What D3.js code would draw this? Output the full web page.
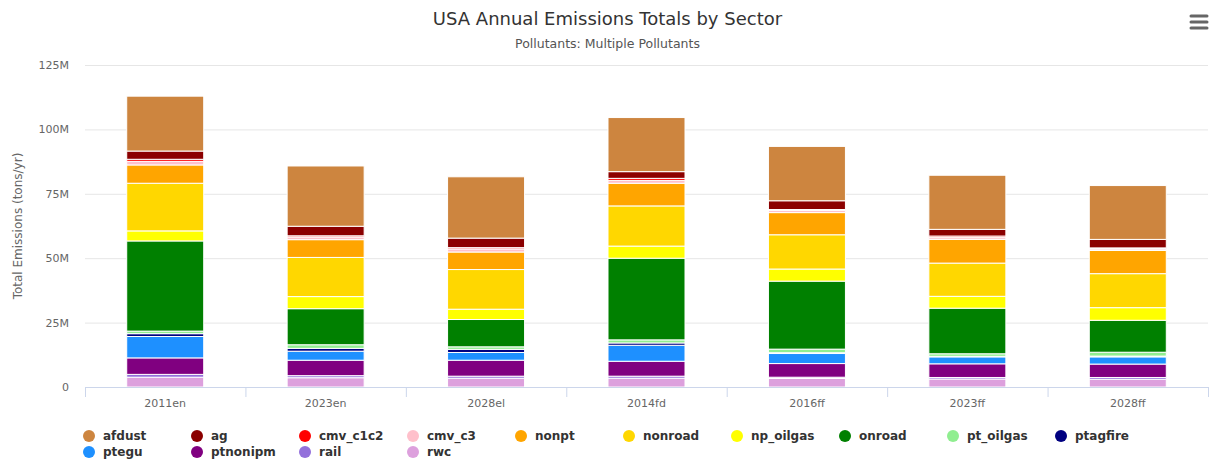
<!DOCTYPE html>
<html>
<head>
<meta charset="utf-8">
<script src="https://cdn.jsdelivr.net/npm/d3@7"></script>
<style>
  body { margin: 0; background: #fff; }
  text { font-family: "DejaVu Sans", Verdana, sans-serif; }
</style>
</head>
<body>
<div id="chart-area"></div>
<script>
// scenarios on the x axis
var scenarios = ["2011en", "2023en", "2028el", "2014fd", "2016ff", "2023ff", "2028ff"];

// sector totals, millions of tons/yr
var afdust    = [21.3, 23.4, 23.8, 21.0, 21.1, 21.0, 20.9];
var ag        = [3.2, 3.7, 3.7, 2.6, 3.4, 2.6, 3.3];
var cmv_c1c2  = [0.8, 0.5, 0.5, 0.8, 0.4, 0.6, 0.4];
var cmv_c3    = [1.4, 1.0, 1.2, 1.1, 0.8, 0.7, 0.6];
var nonpt     = [7.1, 6.9, 6.8, 8.8, 8.6, 9.2, 9.0];
var nonroad   = [18.5, 15.2, 15.4, 15.6, 13.3, 12.9, 13.2];
var np_oilgas = [3.9, 4.7, 4.0, 4.7, 4.7, 4.6, 4.9];
var onroad    = [35.0, 14.0, 10.6, 31.7, 26.4, 17.7, 12.4];
var pt_oilgas = [1.0, 1.4, 1.0, 1.2, 1.4, 1.0, 1.5];
var ptagfire  = [1.1, 1.1, 1.2, 0.9, 0.3, 0.2, 0.3];
var ptegu     = [8.3, 3.5, 3.0, 6.2, 3.9, 2.7, 2.8];
var ptnonipm  = [6.4, 6.0, 6.2, 5.8, 5.3, 5.3, 5.2];
var rail      = [1.1, 0.8, 0.8, 0.8, 0.5, 0.6, 0.7];
var rwc       = [3.8, 3.6, 3.4, 3.4, 3.3, 3.1, 3.0];

var sectors = ["afdust", "ag", "cmv_c1c2", "cmv_c3", "nonpt", "nonroad", "np_oilgas",
               "onroad", "pt_oilgas", "ptagfire", "ptegu", "ptnonipm", "rail", "rwc"];
var sectorValues = [afdust, ag, cmv_c1c2, cmv_c3, nonpt, nonroad, np_oilgas,
                    onroad, pt_oilgas, ptagfire, ptegu, ptnonipm, rail, rwc];
var colors = ["#CD853F", "#8B0000", "#FF0000", "#FFC0CB", "#FFA500", "#FFD700", "#FFFF00",
              "#008000", "#90EE90", "#000080", "#1E90FF", "#800080", "#9370DB", "#DDA0DD"];
var yTicks = [0, 25, 50, 75, 100, 125];

var W = 1215, H = 461;
var margin = {left: 85, right: 7, top: 65, bottom: 74};
var width = W - margin.left - margin.right;
var height = H - margin.top - margin.bottom;

var svg = d3.select("#chart-area").append("svg")
  .attr("width", W)
  .attr("height", H);

svg.append("text")
  .attr("x", W / 2)
  .attr("y", 25)
  .attr("text-anchor", "middle")
  .attr("font-size", "18px")
  .attr("fill", "#333")
  .text("USA Annual Emissions Totals by Sector");

svg.append("text")
  .attr("x", W / 2)
  .attr("y", 48)
  .attr("text-anchor", "middle")
  .attr("font-size", "12.5px")
  .attr("fill", "#555")
  .text("Pollutants: Multiple Pollutants");

// menu icon
[16, 22, 28].forEach(function(y) {
  svg.append("line")
    .attr("x1", 1191).attr("x2", 1207)
    .attr("y1", y).attr("y2", y)
    .attr("stroke", "#666")
    .attr("stroke-width", 3)
    .attr("stroke-linecap", "round");
});

var g = svg.append("g")
  .attr("transform", "translate(" + margin.left + "," + margin.top + ")");

// rows for the stack
var table = scenarios.map(function(s, i) {
  var row = {scenario: s};
  sectors.forEach(function(k, j) { row[k] = sectorValues[j][i]; });
  return row;
});

var x = d3.scaleBand().domain(scenarios).range([0, width]);
var y = d3.scaleLinear().domain([0, 125]).range([height, 0]);

// grid + y labels
var yAxisCall = d3.axisLeft(y).tickValues(yTicks).tickSize(-width)
  .tickFormat(function(d) { return d === 0 ? "0" : d + "M"; });
var yAxis = g.append("g").attr("class", "y axis").call(yAxisCall);
yAxis.select(".domain").remove();
yAxis.selectAll(".tick line").attr("stroke", "#e6e6e6");
yAxis.selectAll(".tick text")
  .attr("x", -16)
  .attr("dy", "0.32em")
  .attr("font-size", "11px")
  .attr("fill", "#666")
  .attr("font-family", "DejaVu Sans");

g.append("text")
  .attr("transform", "rotate(-90)")
  .attr("x", -(height / 2))
  .attr("y", -63)
  .attr("text-anchor", "middle")
  .attr("font-size", "12px")
  .attr("fill", "#666")
  .text("Total Emissions (tons/yr)");

// stacked bars, rwc at the bottom
var stack = d3.stack().keys(sectors.slice().reverse());
var layers = stack(table);
var barW = x.bandwidth() * 0.48;

g.selectAll("g.layer").data(layers).enter().append("g")
  .attr("class", "layer")
  .attr("fill", function(d) { return colors[sectors.indexOf(d.key)]; })
  .selectAll("rect").data(function(d) { return d; }).enter().append("rect")
  .attr("x", function(d) { return x(d.data.scenario) + (x.bandwidth() - barW) / 2; })
  .attr("y", function(d) { return y(d[1]); })
  .attr("width", barW)
  .attr("height", function(d) { return y(d[0]) - y(d[1]); })
  .attr("stroke", "#fff")
  .attr("stroke-width", 1);

// x axis
var xAxisCall = d3.axisBottom(x).tickSize(0).tickPadding(12);
var xAxis = g.append("g")
  .attr("class", "x axis")
  .attr("transform", "translate(0," + height + ")")
  .call(xAxisCall);
xAxis.select(".domain").attr("stroke", "#ccd6eb");
xAxis.selectAll(".tick text")
  .attr("font-size", "11px")
  .attr("fill", "#666")
  .attr("font-family", "DejaVu Sans");
var bounds = scenarios.map(function(s) { return x(s); }).concat([width]);
xAxis.selectAll("line.bound").data(bounds).enter().append("line")
  .attr("class", "bound")
  .attr("x1", function(d) { return d + 0.5; })
  .attr("x2", function(d) { return d + 0.5; })
  .attr("y1", 0).attr("y2", 10)
  .attr("stroke", "#ccd6eb");

// legend
var legend = svg.append("g").attr("class", "legend");
var items = legend.selectAll("g").data(sectors).enter().append("g")
  .attr("transform", function(d, i) {
    var col = i % 10, row = Math.floor(i / 10);
    return "translate(" + (89 + col * 108) + "," + (436 + row * 16) + ")";
  });
items.append("circle")
  .attr("r", 6)
  .attr("fill", function(d, i) { return colors[i]; });
items.append("text")
  .attr("x", 14)
  .attr("dy", "0.35em")
  .attr("font-size", "12px")
  .attr("font-weight", "bold")
  .attr("fill", "#333")
  .text(function(d) { return d; });
</script>
</body>
</html>
